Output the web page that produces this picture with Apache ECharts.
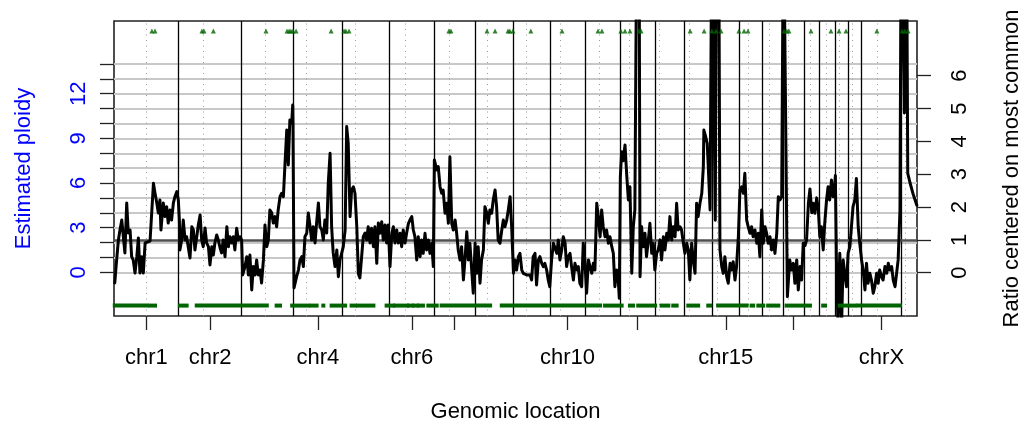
<!DOCTYPE html>
<html><head><meta charset="utf-8">
<script src="https://cdn.jsdelivr.net/npm/echarts@6/dist/echarts.min.js"></script>
<style>html,body{margin:0;padding:0;background:#fff}#c{width:1023px;height:426px}</style>
</head><body><div id="c"></div>
<script>
// ---- data ----
const chromNames = ['chr1','chr2','chr3','chr4','chr5','chr6','chr7','chr8','chr9','chr10','chr11','chr12','chr13','chr14','chr15','chr16','chr17','chr18','chr19','chr20','chr21','chr22','chrX','chrY'];
const chromLengthsMb = [249.25,243.20,198.02,191.15,180.92,171.12,159.14,146.36,141.21,135.53,135.01,133.85,115.17,107.35,102.53,90.35,81.20,78.08,59.13,63.03,48.13,51.30,155.27,59.37];
const centromereMb = [125.0,93.3,91.0,50.4,48.4,61.0,59.9,45.6,49.0,40.2,53.7,35.8,17.9,17.6,19.0,36.6,24.0,17.2,26.5,27.5,13.2,14.7,60.6,12.5];
const tickChroms = ['chr1','chr2','chr4','chr6','chr7','chr10','chr12','chr15','chr18','chrX'];
const labelChroms = ['chr1','chr2','chr4','chr6','chr10','chr15','chrX'];
const ploidyTicks = [0,1,2,3,4,5,6,7,8,9,10,11,12,13,14];
const ploidyLabels = [0,3,6,9,12];
const ratioTicks = [0,1,2,3,4,5,6];
const ratioRefLine = [1];

const profilePosMb = [
3,8,17,23,30,36,42,49,55,62,68,74,81,88,94,100,107,113,120,126,139,145,152,158,165,171,177,181,190,197,203,209,216,222,229,235,242,248,
252,254,261,267,274,280,293,300,306,312,319,325,332,338,344,351,357,364,370,377,383,389,396,402,409,415,421,428,435,441,447,454,460,466,473,479,486,492,
496,505,512,518,524,531,537,544,550,556,563,569,576,582,589,595,601,608,614,621,627,633,640,646,653,659,666,672,678,685,689,690,
694,704,711,717,724,730,736,743,749,756,762,768,775,781,788,794,801,807,813,820,826,833,839,845,852,859,865,871,878,
884,891,897,903,910,916,923,929,936,942,948,955,961,968,974,980,987,993,1000,1006,1013,1019,1025,1032,1038,1045,1051,1057,
1064,1071,1077,1083,1090,1096,1103,1109,1115,1122,1128,1135,1141,1148,1154,1160,1167,1173,1180,1186,1192,1199,1205,1212,1218,1225,1231,
1235,1244,1250,1257,1263,1269,1276,1283,1289,1295,1302,1308,1315,1321,1327,1334,1340,1347,1353,1360,1366,1372,1379,1385,1392,
1398,1404,1411,1417,1424,1430,1437,1443,1449,1456,1462,1469,1475,1481,1488,1495,1501,1507,1514,1520,1527,1533,
1540,1546,1552,1559,1565,1572,1578,1584,1591,1604,1610,1616,1623,1629,1636,1642,1649,1655,1661,1668,1674,1680,
1687,1694,1700,1707,1713,1719,1726,1732,1739,1745,1751,1758,1764,1771,1777,1784,1790,1796,1803,1809,1815,
1822,1829,1835,1842,1848,1854,1861,1867,1874,1880,1886,1893,1899,1906,1912,1919,1925,1931,1938,1944,1948,
1952,1957,1963,1970,1977,1983,1989,1996,2002,2008,2016,2024,2028,2034,2040,2047,2053,2060,2066,2073,2079,2085,
2092,2098,2105,2111,2118,2124,2131,2137,2143,2150,2156,2163,2169,2175,2182,2188,2195,2201,
2208,2214,2220,2227,2233,2240,2246,2252,2259,2266,2272,2274,2281,2287,2291,2298,2305,2311,2318,2323,2331,
2336,2343,2349,2355,2362,2368,2375,2381,2387,2394,2400,2407,
2413,2420,2426,2432,2439,2445,2452,2458,2464,2471,2478,2484,2490,2497,2503,
2510,2516,2522,2529,2535,2542,2548,2555,2561,2567,2574,2581,2588,
2596,2605,2612,2619,2625,2632,2638,2645,2651,2657,
2664,2670,2677,2683,2690,2696,2702,2709,2715,
2721,2727,2734,2740,2747,2753,2759,2766,2772,2779,2781,
2785,2791,2798,2805,2811,2817,2824,2830,
2837,2843,2849,2856,2862,2869,2875,
2882,2888,2895,2901,2907,2914,2920,2927,2933,2940,2946,2952,2959,2965,2972,2979,2985,2991,2998,3004,3011,3017,3023,3030,3035,
3042,3047,3050,3055,3060,3069,3080,3095];
const profilePloidy = [
-0.72,0.38,2.17,2.84,3.51,2.39,1.30,4.66,2.64,2.84,1.05,0.83,-0.05,1.05,2.31,-0.05,1.05,-0.05,1.97,2.06,2.10,2.17,5.98,5.33,4.66,3.99,4.86,2.84,4.66,3.74,4.41,3.31,4.19,3.51,4.66,5.08,5.42,4.86,
3.51,1.50,2.17,3.51,2.17,2.39,0.96,3.06,2.84,1.50,2.39,3.18,3.85,2.17,1.72,2.98,1.97,1.72,0.49,1.72,1.16,1.97,2.51,2.17,1.63,1.30,2.17,1.05,3.06,1.72,2.39,1.97,2.39,1.50,2.96,2.17,2.39,2.17,
-0.18,0.38,1.05,-0.18,1.16,-1.19,0.38,-0.18,0.83,-0.18,0.15,-0.72,0.83,3.18,1.72,2.17,4.19,3.99,3.31,3.74,3.06,4.19,5.08,5.31,5.08,7.21,9.56,7.21,10.24,10.03,11.24,10.03,
-1.06,-0.30,0.15,0.83,1.05,0.38,2.39,2.62,3.99,3.06,2.17,3.06,1.97,3.31,4.66,3.06,2.84,2.17,3.51,2.64,5.98,8.00,3.06,1.30,0.38,1.50,-0.30,0.83,1.30,
1.72,2.84,9.79,8.67,3.74,5.53,5.75,5.31,3.06,-0.10,-0.38,-0.30,2.39,2.64,2.17,3.06,1.97,2.96,1.72,3.06,0.60,3.31,2.62,3.40,2.17,3.18,1.97,3.18,
0.38,2.62,3.06,1.97,2.84,1.97,2.62,1.72,2.84,1.97,2.62,3.29,3.51,3.74,2.84,2.39,0.83,2.39,1.05,2.17,1.27,2.62,1.50,2.17,1.27,1.95,0.38,
7.55,6.88,7.10,5.75,5.31,5.53,3.97,4.64,3.29,7.77,3.29,2.84,3.51,2.62,1.50,0.83,1.72,-0.52,0.83,2.73,0.83,1.95,0.15,-1.41,1.95,
-0.07,1.72,-0.74,0.83,1.50,4.41,3.97,3.29,4.19,3.97,4.86,5.53,4.41,2.17,1.95,2.84,3.51,3.06,3.51,4.19,5.08,3.06,
-0.07,0.83,0.15,1.05,1.27,0.15,-0.07,-0.18,-0.18,-0.18,-0.52,1.05,1.27,-0.85,0.83,1.05,0.60,0.38,0.60,0.15,-0.52,-0.97,
0.83,1.95,1.83,1.27,2.17,0.83,1.50,2.39,1.95,0.38,1.05,1.27,0.38,-0.52,0.60,0.15,0.38,-0.74,-0.97,1.95,0.83,
-1.41,0.83,0.38,-0.07,0.60,0.15,4.64,3.74,2.39,4.19,3.06,2.39,2.84,1.95,2.39,1.72,1.27,-0.97,0.15,-0.52,-1.75,
6.42,8.10,7.50,8.56,6.42,4.86,5.75,-0.07,3.06,4.19,25,25,-0.30,3.06,1.72,2.62,1.05,2.17,3.29,1.27,1.95,0.15,
1.27,1.50,2.17,0.83,2.39,1.50,2.62,2.17,3.74,2.17,3.06,2.39,4.64,2.84,3.06,2.84,1.95,1.27,
1.95,1.50,-0.52,1.95,0.83,-0.07,4.64,3.74,4.64,5.31,7.10,9.56,9.11,8.67,7.10,4.19,25,25,3.50,25,25,
1.50,0.38,-0.07,1.05,-0.30,-0.74,0.60,0.15,0.71,-0.52,0.38,2.39,
5.53,5.75,5.31,6.65,3.51,3.06,2.62,3.06,2.39,2.84,1.95,2.62,1.05,4.19,1.95,
3.06,2.62,1.95,2.39,1.50,2.17,1.27,2.62,5.08,4.86,5.08,25,25,
-1.64,0.83,0.15,0.60,-0.74,0.83,-1.19,0.38,-0.52,1.95,
1.80,2.17,4.64,5.60,4.00,4.64,3.97,5.00,4.30,
2.39,3.06,1.50,3.29,4.86,5.75,4.86,6.20,5.08,5.98,6.50,
0.83,-3.50,1.27,-3.50,0.83,-0.07,-0.97,1.27,
1.72,3.06,4.41,4.86,6.30,3.06,1.95,
0.83,0.15,-1.19,0.60,-0.74,-0.07,-0.52,-1.41,-0.97,-0.07,-0.74,0.15,-0.30,-0.52,0.38,-0.07,0.60,0.15,0.38,-0.52,-0.97,-0.07,0.83,4.19,25,
25,10.70,10.70,25,6.65,6.00,5.30,4.50];

const topMarkPosMb = [146,158,339,347,383,586,667,675,682,690,702,837,887,894,906,1291,1299,1438,1469,1519,1526,1538,1607,1727,1866,1881,1954,1970,1989,2024,2032,2221,2275,2305,2321,2340,2409,2429,2444,2583,2594,2602,2687,2764,2795,2822,2941,3038,3049,3061];
const topMarkLevel = 16.22;
const bottomMarkRunsMb = [[3,126],[139,158],[254,280],[319,589],[627,640],[687,749],[762,781],[807,807],[839,891],[916,929],[941,1000],[1051,1076],[1083,1130],[1137,1149],[1157,1168],[1176,1191],[1212,1244],[1263,1450],[1495,1874],[1893,1957],[1989,2001],[2021,2086],[2111,2137],[2156,2169],[2214,2252],[2291,2298],[2329,2439],[2458,2464],[2484,2503],[2522,2561],[2593,2683],[2734,2741],[2798,2856],[2869,3030]];
const bottomMarkLevel = -2.24;

// ---- derived ----
const offsets = []; let acc = 0;
chromLengthsMb.forEach(l => { offsets.push(acc); acc += l; });
const genomeMb = acc;
const midOf = n => { const i = chromNames.indexOf(n); return offsets[i] + chromLengthsMb[i] / 2; };
const boundaries = offsets.slice(1);
const centromeres = centromereMb.map((c, i) => offsets[i] + c);
const profile = profilePosMb.map((x, i) => [x, profilePloidy[i]]);
const FONT = 'Liberation Sans, Arial, Helvetica, sans-serif';
const GREEN = '#006400';

const chart = echarts.init(document.getElementById('c'), null, {renderer: 'canvas'});
const noLabel = {show: false};
chart.setOption({
  animation: false,
  backgroundColor: '#fff',
  grid: {left: 114, right: 106, top: 21, bottom: 110, show: true, borderColor: '#222', borderWidth: 1.6,
    backgroundColor: 'transparent', containLabel: false, outerBoundsMode: 'none'},
  xAxis: {
    type: 'value', min: 0, max: genomeMb,
    axisLine: {show: false, onZero: false}, splitLine: {show: false},
    axisTick: {show: true, customValues: tickChroms.map(midOf), length: 14, lineStyle: {color: '#222', width: 1.3}},
    axisLabel: {customValues: labelChroms.map(midOf), margin: 31, fontSize: 22, fontFamily: FONT, color: '#000',
      formatter: v => { let best = '', bd = 1e9; labelChroms.forEach(n => { const d = Math.abs(midOf(n) - v); if (d < bd) { bd = d; best = n; } }); return best; }},
    name: 'Genomic location', nameLocation: 'middle', nameGap: 85,
    nameTextStyle: {fontSize: 22, fontFamily: FONT, color: '#000'}
  },
  yAxis: [{
    type: 'value', min: -2.94, max: 16.89, position: 'left',
    axisLine: {show: false, onZero: false}, splitLine: {show: false},
    axisTick: {show: true, customValues: ploidyTicks, length: 14, lineStyle: {color: '#222', width: 1.3}},
    axisLabel: {customValues: ploidyLabels, rotate: 90, margin: 24, fontSize: 22, fontFamily: FONT, color: '#0000ff'},
    name: 'Estimated ploidy', nameLocation: 'middle', nameRotate: 90, nameGap: 79,
    nameTextStyle: {fontSize: 22, fontFamily: FONT, color: '#0000ff'}
  }, {
    type: 'value', min: -1.32, max: 7.667, position: 'right',
    axisLine: {show: false, onZero: false}, splitLine: {show: false},
    axisTick: {show: true, customValues: ratioTicks, length: 14, lineStyle: {color: '#222', width: 1.3}},
    axisLabel: {customValues: ratioTicks, rotate: 90, margin: 32, fontSize: 22, fontFamily: FONT, color: '#000'},
    name: 'Ratio centered on most common', nameLocation: 'middle', nameRotate: 90, nameGap: 84,
    nameTextStyle: {fontSize: 22, fontFamily: FONT, color: '#000'}
  }],
  series: [
    {type: 'line', data: [], z: 1, silent: true,
      markLine: {silent: true, symbol: ['none', 'none'], label: noLabel, animation: false,
        lineStyle: {color: '#c8c8c8', width: 1.8, type: 'solid'},
        data: ploidyTicks.map(v => ({yAxis: v}))}},
    {type: 'line', data: [], z: 2, silent: true,
      markLine: {silent: true, symbol: ['none', 'none'], label: noLabel, animation: false,
        lineStyle: {color: '#9a9a9a', width: 1, type: [1, 4.5]},
        data: centromeres.map(v => ({xAxis: v}))}},
    {type: 'line', data: [], z: 3, silent: true,
      markLine: {silent: true, symbol: ['none', 'none'], label: noLabel, animation: false,
        lineStyle: {color: '#000', width: 1.3, type: 'solid'},
        data: boundaries.map(v => ({xAxis: v}))}},
    {type: 'line', yAxisIndex: 1, data: [], z: 4, silent: true,
      markLine: {silent: true, symbol: ['none', 'none'], label: noLabel, animation: false,
        lineStyle: {color: '#505050', width: 2.6, type: 'solid'},
        data: ratioRefLine.map(v => ({yAxis: v}))}},
    {type: 'line', data: profile, z: 5, showSymbol: false, symbol: 'none', clip: true, silent: true,
      lineStyle: {color: '#000', width: 3, join: 'round', cap: 'round'}},
    {type: 'scatter', data: topMarkPosMb.map(x => [x, topMarkLevel]), z: 6, silent: true,
      symbol: 'triangle', symbolSize: [5, 5], itemStyle: {color: GREEN}},
    {type: 'custom', data: bottomMarkRunsMb, z: 6, silent: true,
      encode: {x: [0, 1]},
      renderItem: (params, api) => {
        const p0 = api.coord([api.value(0), bottomMarkLevel]);
        const p1 = api.coord([api.value(1), bottomMarkLevel]);
        return {type: 'rect', shape: {x: p0[0] - 2, y: p0[1] - 2, width: p1[0] - p0[0] + 4, height: 4}, style: {fill: GREEN}};
      }}
  ]
});
</script>
</body></html>
